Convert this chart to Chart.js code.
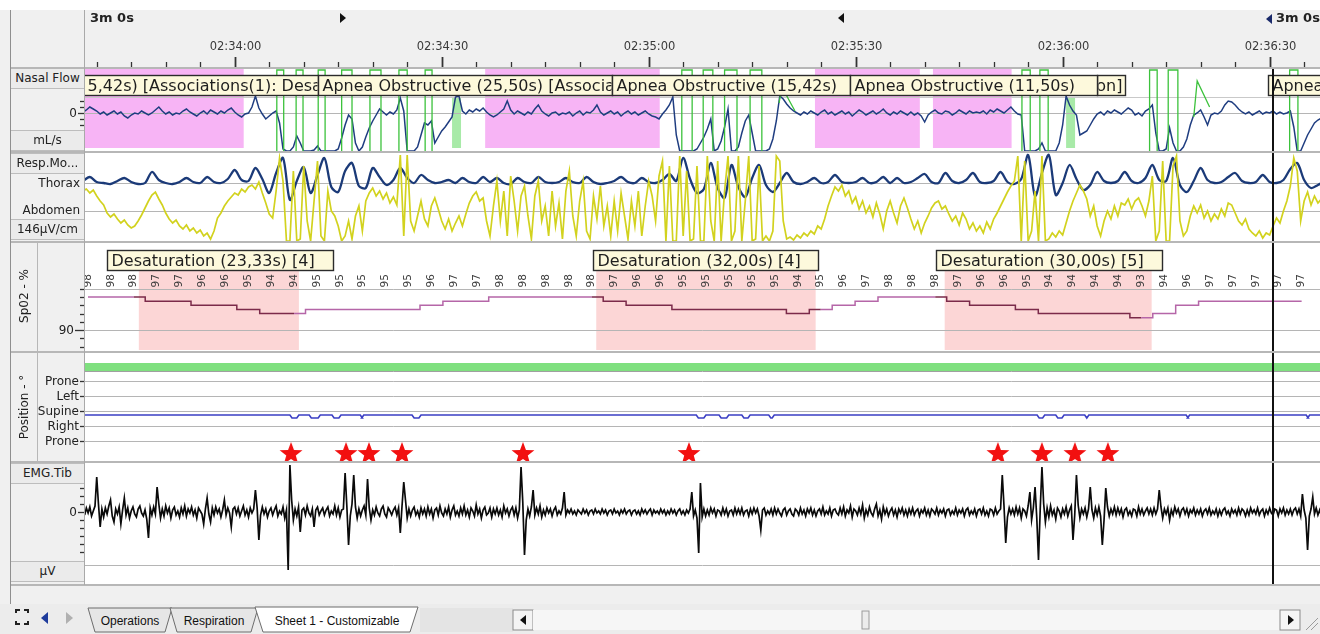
<!DOCTYPE html>
<html>
<head>
<meta charset="utf-8">
<title>Nasal Flow / Resp / SpO2 / Position / EMG.Tib</title>
<script src="https://cdn.jsdelivr.net/npm/chart.js@4.4.1/dist/chart.umd.min.js"></script>
<style>
html, body { margin: 0; padding: 0; overflow: hidden; background: #fff; }
#screen { position: relative; width: 1320px; height: 634px; background: #f0f0f0; overflow: hidden; font-family: "DejaVu Sans", sans-serif; color: #222; }
#screen canvas { position: absolute; }
.box { position: absolute; }
.cell { position: absolute; left: 10px; width: 73px; height: 19px; border: 1px solid #bdbdbd; background: #ebebeb; font-size: 12px; line-height: 19px; text-align: center; white-space: nowrap; overflow: visible; }
.lbl { position: absolute; left: 10px; width: 70px; font-size: 12px; text-align: right; white-space: nowrap; }
.sep { position: absolute; left: 10px; width: 1310px; height: 2px; background: #b7b7b7; z-index: 5; }
.rot { position: absolute; font-size: 12px; white-space: nowrap; transform: translate(-50%, -50%) rotate(-90deg); }
.tri-r { position: absolute; width: 0; height: 0; border-top: 5px solid transparent; border-bottom: 5px solid transparent; border-left: 6px solid #111; }
.tri-l { position: absolute; width: 0; height: 0; border-top: 5px solid transparent; border-bottom: 5px solid transparent; border-right: 6px solid #111; }
.hdr { position: absolute; top: 10px; font-size: 13px; font-weight: bold; color: #222; }
</style>
</head>
<body>
<div id="screen">
  <div class="box" style="left:0;top:0;width:1320px;height:10px;background:#fff"></div>
  <div class="box" style="left:85px;top:68px;width:1235px;height:517px;background:#fff"></div>
  <div class="box" style="left:10px;top:10px;width:1px;height:594px;background:#8f8f8f;z-index:6"></div>
  <div class="box" style="left:84px;top:10px;width:1px;height:575px;background:#a9a9a9;z-index:6"></div>
  <div class="box" style="left:37px;top:242px;width:1px;height:220px;background:#b7b7b7;z-index:6"></div>

  <canvas id="flowChart" width="1283" height="152" style="left:37px;top:0"></canvas>
  <canvas id="respChart" width="1283" height="90" style="left:37px;top:152px"></canvas>
  <canvas id="spo2Chart" width="1283" height="110" style="left:37px;top:242px"></canvas>
  <canvas id="posChart" width="1283" height="110" style="left:37px;top:352px"></canvas>
  <canvas id="emgChart" width="1283" height="123" style="left:37px;top:462px"></canvas>

  <div class="sep" style="top:67px"></div>
  <div class="sep" style="top:151px"></div>
  <div class="sep" style="top:241px"></div>
  <div class="sep" style="top:351px"></div>
  <div class="sep" style="top:461px"></div>
  <div class="sep" style="top:584px"></div>

  <div class="hdr" style="left:90px">3m 0s</div>
  <div class="tri-r" style="left:340px;top:13px"></div>
  <div class="tri-l" style="left:838px;top:13px"></div>
  <div class="tri-l" style="left:1266px;top:14px;border-right-color:#1a2a6a"></div>
  <div class="hdr" style="left:1276px">3m 0s</div>

  <div class="cell" style="top:68px">Nasal Flow</div>
  <div class="cell" style="top:130px">mL/s</div>
  <div class="cell" style="top:153px">Resp.Mo...</div>
  <div class="lbl" style="top:176px">Thorax</div>
  <div class="lbl" style="top:203px">Abdomen</div>
  <div class="cell" style="top:219px">146µV/cm</div>
  <div class="rot" style="left:24px;top:296px">Sp02 - %</div>
  <div class="rot" style="left:24px;top:407px">Position - °</div>
  <div class="cell" style="top:463px">EMG.Tib</div>
  <div class="cell" style="top:561px">µV</div>

  <svg class="box" style="left:0;top:604px" width="1320" height="30" font-family="Liberation Sans, Arial, sans-serif" font-size="12">
    <rect x="0" y="0" width="1320" height="30" fill="#ececec"/>
    <path d="M16 9 v-3 h4 M24 6 h4 v3 M28 17 v3 h-4 M20 20 h-4 v-3" stroke="#222" stroke-width="2" fill="none"/>
    <polygon points="48,8 48,20 41,14" fill="#1f3c9c"/>
    <polygon points="66,8 66,20 73,14" fill="#b0b0b0"/>
    <polygon points="88,4 172,4 165,28 95,28" fill="#e6e6e6" stroke="#6d6d6d"/>
    <text x="130" y="21" text-anchor="middle" fill="#111">Operations</text>
    <polygon points="170,4 258,4 251,28 177,28" fill="#e6e6e6" stroke="#6d6d6d"/>
    <text x="214" y="21" text-anchor="middle" fill="#111">Respiration</text>
    <polygon points="255,3 418,3 410,28 263,28" fill="#ffffff" stroke="#6d6d6d"/>
    <text x="337" y="21" text-anchor="middle" fill="#111">Sheet 1 - Customizable</text>
    <rect x="420" y="4" width="93" height="24" fill="#e4e4e4"/>
    <rect x="513" y="6" width="20" height="20" fill="#f4f4f4" stroke="#8a8a8a"/>
    <polygon points="526,11 526,21 520,16" fill="#111"/>
    <rect x="533" y="6" width="747" height="20" fill="#f6f6f6"/>
    <rect x="862" y="7" width="7" height="18" fill="#ececec" stroke="#9a9a9a"/>
    <rect x="1280" y="6" width="20" height="20" fill="#f4f4f4" stroke="#8a8a8a"/>
    <polygon points="1288,11 1288,21 1294,16" fill="#111"/>
    <path d="M1306 26 L1318 14 M1311 26 L1318 19" stroke="#9a9a9a"/>
  </svg>
</div>

<script>
"use strict";

// x axis: seconds after 02:33:00
const tMin = 38.3;
const tMax = 217.3;
const cursorTime = 210.5;

// ---- Nasal flow (0.5 s per sample, from 38 s) ----
const flowStart = 38;
const flowStep = 0.5;
const flowValues = [
    1, 3, 6, 4, 2, -1, 1, -2, 0, 2, -1, 1, -3, -5, -2, 0, -1, 2, 0, -2,
    0, 3, 6, 2, -1, 1, -2, 0, -1, 2, 4, 1, -1, -3, 0, 2, -1, 3, 1, -1,
    2, 0, 3, 5, 1, -2, -4, -1, 0, 6, 17, 5, -1, -6, -3, 0, 2, -10, -36, -38,
    -38, -34, -23, -30, -38, -38, -38, -37, -33, -38, -38, -38, -38, -38, -36, -25, -12, -2, -6, -30,
    -38, -34, -24, -15, -8, -2, 4, 1, -2, 1, -1, 3, 15, 2, -38, -38, -38, -34, -22, -10,
    -12, -8, -30, -24, -18, -14, -9, -4, 16, 17, 2, -1, 3, 1, 4, 2, 5, 1, -2, -4,
    -2, 1, 4, 12, 3, -1, 2, 0, -2, 1, -1, 4, 8, 2, -1, -3, 0, 1, -2, 0,
    -1, 1, -3, 0, 2, -2, 1, 0, 3, 8, 1, -2, 0, 2, -1, 1, -3, 0, 2, -1,
    1, -2, 0, 2, -1, -3, -4, -6, -1, 3, 8, 16, -22, -38, -38, -38, -38, -38, -36, -30,
    -24, -16, -6, -38, -36, -28, -14, 4, -38, -38, -34, -20, -8, -2, -20, -38, -38, -38, -38, -36,
    -26, -8, 17, 14, 9, 5, 2, 0, -2, 1, -1, 2, 0, -2, 1, 3, -1, 1, -2, 0,
    2, -1, 1, -3, 0, 3, 1, -2, 0, 2, -1, 1, 4, 0, -2, 1, -1, 2, 0, -2,
    1, -2, 0, -3, -9, -2, 1, 3, 0, -1, 2, 1, -2, 0, 3, 1, -1, 2, 0, 1,
    0, 2, -1, 3, 1, 4, 2, 0, 3, 6, 2, -1, -2, -38, -38, -38, -38, -36, -30, -38,
    -38, -38, -38, -30, -12, 17, 8, 2, -2, -22, -20, -18, -12, -6, -1, 1, -2, 2, 0, 3,
    1, -1, 2, 5, 3, -2, 0, -3, 2, 4, 8, -20, -38, -38, -36, -15, -30, -38, -38, -34,
    -26, -12, -2, 0, 3, -4, -12, -2, 0, -1, 2, 8, 12, 11, 8, 4, 1, -1, 1, -2,
    0, 2, -1, 1, 0, 2, -1, 1, -1, 0, 2, -14, -38, -38, -30, -22, -16, -10, -7, -5,
];

// green effort trace: square pulses
const greenOn = [66.1, 68.9, 72.1, 75.5, 79.6, 83.8, 87.6, 124.8, 127.9, 131.0, 134.7, 174.1, 176.7, 192.6, 195.3, 212.9];
const greenOff = [67.1, 69.9, 73.1, 77.0, 81.2, 85.0, 88.6, 126.3, 129.3, 132.8, 136.4, 175.3, 177.9, 193.7, 196.7, 214.1];
const greenLow = -39;
const greenHigh = 43;
const greenRiseTime = [138.9, 199.0];
const greenRiseValue = [10, -4];
const greenPeakTime = [139.3, 199.5];
const greenPeakValue = [26, 32];
const greenSettleTime = [141.2, 201.3];
const greenSettleValue = [2, 6];

const flowPinkFrom = [30, 96.3, 144.1, 161.2];
const flowPinkTo = [61.3, 121.6, 159.3, 172.6];
const flowGreenFrom = [91.5, 180.5];
const flowGreenTo = [92.8, 181.8];

const apneaFrom = [38.0, 72.07, 114.68, 184.97, 149.17, 209.75];
const apneaTo = [72.07, 114.68, 149.17, 189.0, 184.97, 240];
const apneaText = [
    "5,42s) [Associations(1): Desaturation]",
    "Apnea Obstructive (25,50s) [Associations(1): Desaturation]",
    "Apnea Obstructive (15,42s)",
    "[Associations(1): Desaturation]",
    "Apnea Obstructive (11,50s)",
    "Apnea Obstructive",
];
const apneaAlign = ["left", "left", "left", "right", "left", "left"];

// ---- Resp. movements ----
const thoraxStart = 38;
const thoraxStep = 1;
const thoraxValues = [
    2, 6, 1, 0, -1, 2, 5, 1, -1, 0,
    11, 3, 0, -1, 1, 5, 1, 0, 6, 1,
    0, 4, 13, 3, 2, 15, 4, -10, 10, 25,
    -17, 2, 16, -10, 8, 25, -4, -9, 12, 20,
    -3, -5, 15, 6, -2, 3, 15, 5, 0, 8,
    3, 0, 1, 3, 0, 5, 1, 0, 6, 1,
    5, 0, -1, 5, 1, 0, 6, 1, 0, 1,
    5, 1, 0, 6, 1, -1, 0, 2, 6, 1,
    0, 5, 1, 0, 3, 9, 2, 25, 4, -10,
    -6, 20, -5, -15, 18, -4, -14, 5, 18, -2,
    -9, 0, 10, 1, -1, 1, 5, 0, 1, 8,
    1, 0, 1, 5, 0, 1, 6, 0, 5, 0,
    1, 5, 9, 1, 0, 10, 2, 0, 3, 10,
    1, 0, 2, 11, 1, -1, 4, 28, -13, 10,
    28, -12, 0, 18, 4, -7, -2, 11, 2, 0,
    2, 11, 2, 0, 5, 18, 3, 2, 25, -2,
    -9, 2, 15, 3, 0, 1, 6, 10, 2, 0,
    1, 8, 1, 0, 3, 14, 20, 3, -5, -2, 2,
];

const abdomenStart = 38;
const abdomenStep = 0.5;
const abdomenValues = [
    20, 22, 18, 21, 15, 10, 6, -2, -6, -3, -8, -12, -9, -14, -17, -15, -10, -4, 3, 10,
    16, 19, 12, 6, -2, -8, -12, -9, -15, -18, -14, -20, -17, -22, -19, -25, -22, -28, -20, -7,
    -2, 5, 10, 14, 18, 16, 22, 19, 24, 26, 22, 29, 18, 8, -3, -7, 20, 53, 30, -30,
    -30, 40, -30, -28, 45, -10, -30, 10, 50, -25, -30, 20, 0, -5, -15, -30, -25, -10, -28, -5,
    5, -20, 10, 18, 23, 15, 20, 12, 18, 8, 14, 6, 56, -25, 56, -10, -20, -5, 10, -8,
    -15, 5, 13, 2, -10, -18, -8, -20, -12, -5, -15, -3, 8, 15, 19, 10, 13, -10, -25, 5,
    30, -10, 20, -25, 35, 10, -20, 15, 25, -5, -28, 15, 30, -10, 5, -25, 20, -15, 8, -28,
    20, 40, -5, -25, 10, 30, -20, -28, 15, -8, 25, -15, 5, -25, 10, -20, 18, -5, -28, 10,
    -15, 20, -25, 5, 30, 15, -10, 35, 50, -30, 45, -30, -30, 55, -25, 40, -30, -28, 45, -30,
    -30, 55, -10, -30, 50, -30, 20, 55, -30, -20, 55, -30, 10, 55, -30, -28, 45, -30, -25, -30,
    -20, 55, 50, -10, -28, -26, -29, -24, -27, -22, -25, -20, -23, -15, -18, -8, 5, 15, 24, 20,
    26, 15, 20, 8, 14, 2, 10, -2, 5, -6, 8, -3, -18, 0, 10, -2, -12, 5, 13, 3,
    -8, -18, -10, -22, -12, -5, 3, 8, 10, 2, 5, -3, -10, -5, -14, -2, -8, -18, -12, -20,
    -15, -22, -11, -18, -8, -2, 5, 12, 19, 25, 30, 55, -30, 50, -30, -20, 20, -30, 55, -30,
    -28, -22, -26, -20, -24, -12, 0, 10, 18, 26, 20, 12, -5, 5, -15, -25, -10, 0, -8, 5,
    -5, 8, 6, 12, 2, 10, 13, 5, -5, 10, 35, -30, -20, 50, -30, -30, 45, 55, -10, -25,
    -20, -5, 5, -2, 6, -7, 0, -10, -3, -8, 2, -5, 8, 6, -2, -10, -14, -8, -18, -22,
    -25, -20, -27, -22, -24, -15, -7, -12, 0, 10, 25, 53, 40, -10, 10, 19, 6, 15, 8, 12,
];

// ---- SpO2 ----
const spo2Start = 38.73;
const spo2Step = 3.319;
const spo2Values = [
    98, 98, 98, 97, 97, 96, 96, 95, 94, 94, 95, 95, 95, 95, 95, 96, 97, 97, 98, 98,
    98, 98, 98, 97, 96, 96, 95, 95, 95, 95, 95, 94, 95, 96, 97, 98, 98, 98, 97, 96,
    96, 95, 94, 94, 94, 94, 93, 94, 96, 97, 97, 97, 97, 97,
];
const desatFrom = [46.1, 112.4, 162.9];
const desatTo = [69.3, 144.2, 192.9];
const desatBoxFrom = [41.5, 111.9, 161.6];
const desatBoxTo = [74.2, 144.5, 194.4];
const desatText = ["Desaturation (23,33s) [4]", "Desaturation (32,00s) [4]", "Desaturation (30,00s) [5]"];

// ---- Position ----
const positionNames = ["Prone", "Right", "Supine", "Left", "Prone"];
const posLevel = 1.73;
const posDipLevel = 1.53;
const posDipFrom = [68.0, 70.8, 74.1, 78.2, 85.7, 126.9, 130.2, 133.5, 137.4, 176.3, 179.0, 183.2, 197.9, 215.3];
const posDipTo = [69.3, 72.4, 75.4, 78.7, 87.0, 128.3, 131.6, 134.7, 138.2, 177.4, 180.2, 183.8, 198.4, 215.8];
const lightLevel = 4.93;
const starTimes = [68.16, 76.13, 79.46, 84.24, 101.78, 125.84, 170.62, 176.99, 181.78, 186.56];
const starLevel = -0.8;

// ---- EMG tibialis (0.25 s per sample, from 38 s) ----
const emgStart = 38;
const emgStep = 0.25;
const emgValues = [
    2, -3, 4, -1, 5, -4, 1, 6, 35, 8, -15, 3, -5, 4, -2, 6, 12, -4, -10, 3,
    -2, 5, -12, 2, 14, -3, 4, -6, 1, 5, -2, -5, 3, 6, -1, -4, 2, -7, -26, 4,
    -3, 5, -2, 25, 8, -6, 3, -4, 6, -1, 4, -6, 2, 5, -3, 1, -5, 4, -2, 6,
    -4, 3, -1, 5, -3, 2, -6, 4, 1, -2, -12, 3, 14, -2, -10, 4, -3, 5, -1, 3,
    -5, 2, 12, -3, 4, -1, -15, 3, 5, -2, 4, -4, 1, 6, -3, 2, -5, 4, -1, 3,
    22, 4, -28, -3, 5, -2, 3, -5, 1, 4, -3, 2, 6, -4, 1, -2, 5, -6, 2, -58,
    47, 12, -8, 3, -4, 5, -20, 2, 4, -3, 6, -1, -4, 3, -15, 2, 5, -3, 1, 4,
    -3, 2, 5, -4, 1, -2, 6, -3, 4, -5, 2, 3, 39, 6, -33, -4, 8, 37, 5, -6,
    3, -4, 2, 6, -3, 33, 4, -8, 2, -3, 5, -1, -4, 3, 6, -2, -5, 4, 1, -3,
    2, 5, -3, 4, -21, 6, 30, 12, -6, 3, -4, 2, 5, -3, 1, -5, 4, -2, 3, -4,
    5, -2, 3, -6, 2, 4, -3, 6, -1, -4, 3, -2, 5, -5, 2, 6, -3, 1, -4, 4,
    -2, 6, -3, 2, -5, 4, 1, -4, 7, -2, 3, -6, 2, 5, -3, -1, 4, -5, 3, -2,
    4, -3, 2, -5, 6, -1, 3, -4, 2, 5, -3, 4, -6, 2, 45, 10, -43, -8, 3, -4,
    5, 22, -3, 4, -2, 6, -5, 2, -3, 4, -1, 3, -4, 2, 5, -3, 1, -2, 4, 20,
    -3, 2, -1, 3, -2, 1, -3, 2, 0, -2, 3, -1, 2, -3, 1, 2, -2, 3, -1, 1,
    -2, 3, -1, 2, -3, 1, 2, -2, 3, -1, 1, -3, 2, -1, 3, -2, 1, 2, -3, 1,
    2, -2, 1, -3, 3, -1, 2, -2, 1, 3, -3, 2, -1, 1, -2, 3, -1, 2, -3, 1,
    -2, 3, -1, 2, -3, 1, 3, -2, 1, -3, 2, -1, 3, 20, -4, 2, -6, -41, 29, -5,
    3, -4, 2, -3, 4, -1, 3, -4, 2, 1, -3, 4, -2, 3, -4, 1, 2, -3, 4, -2,
    3, -2, 4, -3, 1, 2, -4, 3, -2, 4, -1, 3, -4, -18, 2, 4, -3, 1, -2, 3,
    -3, 4, -2, 3, -1, -4, 2, 4, -3, 1, 3, -2, -4, 3, 1, -3, 4, -2, 2, -4,
    3, -1, 4, -3, 2, -4, 1, 3, -2, 5, -3, 1, -2, 4, -4, 2, 3, -1, -3, 4,
    -2, 5, -4, 2, -1, 6, -5, 3, 1, -3, 4, -2, 7, -6, 2, -3, 5, -1, -4, 3,
    8, -4, 2, -7, 5, -2, 3, -4, 1, 4, -3, 2, -5, 3, -1, 4, -3, 2, -4, 3,
    -2, 4, -3, 1, 3, -4, 2, -1, 4, -3, 2, -4, 3, 1, -2, 4, -3, 2, -1, 3,
    -4, 2, 3, -3, 1, -2, 4, -3, 2, -1, 3, -4, 2, 4, -3, 1, -2, 3, -4, 2,
    3, -2, 4, -3, 1, -4, 3, 2, -3, 4, -2, 1, 3, 37, 6, -31, -5, 4, -2, 3,
    -3, 5, -2, 4, -6, 3, 1, -4, 6, 20, -8, 4, 25, -6, -48, 3, 45, 8, -10, 4,
    -5, 6, -3, 2, -7, 4, 1, -5, 3, -2, 5, -4, 2, 6, -28, -3, 37, 7, -6, 3,
    -2, 4, -5, 3, 25, 2, -6, 4, -3, 5, -4, -33, -8, 24, 5, -4, 3, -2, 5, -3,
    4, -2, 3, -5, 2, 4, -3, 1, -4, 3, 2, -4, 5, -2, 3, -3, 1, 4, -2, 3,
    -3, 4, -2, 3, 22, 5, -6, 3, -2, 4, -8, 2, -3, 5, -1, 3, -4, 2, 4, -2,
    3, -4, 2, -1, 4, -3, 2, -2, 3, -4, 1, 3, -2, 4, -3, 1, -2, 3, -4, 2,
    -3, 2, 4, -2, 1, -4, 3, -1, 2, -3, 4, -2, 3, 1, -4, 2, -3, 4, -1, 2,
    -2, 4, -3, 1, 3, -4, 2, -2, 4, -1, -3, 3, 2, -4, 3, -1, 4, -3, 2, -2,
    3, -3, 2, 4, -2, 3, -4, 18, 2, -6, -38, -4, 3, 15, -2, 4, -3, 2, -4, 3,
];

// ---------------------------------------------------------------

const series = (values, start, step) => values.map((v, i) => ({ x: start + i * step, y: v }));

function clockLabel(v) {
    const m = 33 + Math.floor(v / 60);
    const s = v % 60;
    return "02:" + String(m).padStart(2, "0") + ":" + String(s).padStart(2, "0");
}

function makeStar(size, color) {
    const c = document.createElement("canvas");
    c.width = size;
    c.height = size;
    const g = c.getContext("2d");
    const r = size / 2;
    g.beginPath();
    for (let i = 0; i < 10; i++) {
        const rad = i % 2 === 0 ? r : r * 0.42;
        const ang = -Math.PI / 2 + (i * Math.PI) / 5;
        const px = r + rad * Math.cos(ang);
        const py = r + rad * Math.sin(ang) + 1;
        if (i === 0) g.moveTo(px, py);
        else g.lineTo(px, py);
    }
    g.closePath();
    g.fillStyle = color;
    g.fill();
    return c;
}

const psgPlugin = {
    id: "psg",
    beforeDatasetsDraw(chart, args, opts) {
        const { ctx, chartArea: a, scales } = chart;
        ctx.save();
        ctx.beginPath();
        ctx.rect(a.left, a.top, a.width, a.height);
        ctx.clip();
        for (const b of opts.bands || []) {
            const ys = scales[b.axis || "y"];
            const x1 = scales.x.getPixelForValue(b.from);
            const x2 = scales.x.getPixelForValue(b.to);
            const y1 = ys.getPixelForValue(b.top);
            const y2 = ys.getPixelForValue(b.bottom);
            ctx.fillStyle = b.color;
            ctx.fillRect(x1, y1, x2 - x1, y2 - y1);
        }
        for (const h of opts.lines || []) {
            const y = Math.round(scales[h.axis || "y"].getPixelForValue(h.value)) + 0.5;
            ctx.strokeStyle = h.color || "#b5b5b5";
            ctx.lineWidth = 1;
            ctx.beginPath();
            ctx.moveTo(a.left, y);
            ctx.lineTo(a.right, y);
            ctx.stroke();
        }
        ctx.restore();
    },
    afterDatasetsDraw(chart, args, opts) {
        const { ctx, chartArea: a, scales } = chart;
        ctx.save();
        ctx.beginPath();
        ctx.rect(a.left, a.top, a.width, a.height);
        ctx.clip();

        for (const b of opts.boxes || []) {
            const x1 = Math.round(scales.x.getPixelForValue(b.from)) + 0.5;
            const x2 = Math.round(scales.x.getPixelForValue(b.to)) + 0.5;
            const y1 = Math.round(scales.y.getPixelForValue(b.top)) + 0.5;
            const y2 = Math.round(scales.y.getPixelForValue(b.bottom)) + 0.5;
            ctx.save();
            ctx.fillStyle = "#fdf9dc";
            ctx.fillRect(x1, y1, x2 - x1, y2 - y1);
            ctx.strokeStyle = "#2b2b2b";
            ctx.lineWidth = 1.4;
            ctx.strokeRect(x1, y1, x2 - x1, y2 - y1);
            ctx.beginPath();
            ctx.rect(x1 + 1, y1, x2 - x1 - 2, y2 - y1);
            ctx.clip();
            ctx.fillStyle = "#1e1e1e";
            ctx.font = "16px 'DejaVu Sans'";
            ctx.textBaseline = "middle";
            ctx.textAlign = b.align || "left";
            ctx.fillText(b.text, b.align === "right" ? x2 - 3 : x1 + 4, (y1 + y2) / 2 + 1);
            ctx.restore();
        }

        if (opts.marks) {
            const m = opts.marks;
            ctx.fillStyle = "#3a3a3a";
            ctx.font = "10.5px 'DejaVu Sans'";
            ctx.textAlign = "left";
            ctx.textBaseline = "middle";
            m.values.forEach((v, i) => {
                const x = scales.x.getPixelForValue(m.start + i * m.step);
                const y = scales.y.getPixelForValue(m.at);
                ctx.save();
                ctx.translate(x, y);
                ctx.rotate(-Math.PI / 2);
                ctx.fillText(String(v), 0, 0);
                ctx.restore();
            });
        }

        if (opts.cursor != null) {
            const x = Math.round(scales.x.getPixelForValue(opts.cursor));
            ctx.strokeStyle = "#111";
            ctx.lineWidth = 2;
            ctx.beginPath();
            ctx.moveTo(x, a.top);
            ctx.lineTo(x, a.bottom);
            ctx.stroke();
        }
        ctx.restore();
    },
    afterDraw(chart, args, opts) {
        const { ctx, chartArea: a, scales } = chart;
        ctx.save();
        for (const t of opts.ticks || []) {
            const y = Math.round(scales.y.getPixelForValue(t.value)) + 0.5;
            const len = t.len || 4;
            ctx.strokeStyle = "#333";
            ctx.lineWidth = 1.3;
            ctx.beginPath();
            ctx.moveTo(a.left - len - 1, y);
            ctx.lineTo(a.left - 1, y);
            ctx.stroke();
            if (t.label) {
                ctx.fillStyle = "#222";
                ctx.font = "12px 'DejaVu Sans'";
                ctx.textAlign = "right";
                ctx.textBaseline = "middle";
                ctx.fillText(t.label, a.left - len - 2, y);
            }
        }
        if (opts.header) {
            const h = opts.header;
            for (let v = h.from; v <= h.to; v += h.step) {
                const x = Math.round(scales.x.getPixelForValue(v)) + 0.5;
                const major = v % h.major === 0;
                ctx.strokeStyle = "#333";
                ctx.lineWidth = major ? 1.8 : 1.3;
                ctx.beginPath();
                ctx.moveTo(x, a.top - (major ? 11 : 6));
                ctx.lineTo(x, a.top);
                ctx.stroke();
                if (major) {
                    ctx.fillStyle = "#3a3a3a";
                    ctx.font = "11.5px 'DejaVu Sans'";
                    ctx.textAlign = "center";
                    ctx.textBaseline = "middle";
                    ctx.fillText(clockLabel(v), x, 47);
                }
            }
        }
        ctx.restore();
    },
};

function makeChart(id, datasets, yScales, psg, padding) {
    return new Chart(document.getElementById(id), {
        type: "line",
        data: { datasets: datasets },
        options: {
            responsive: false,
            animation: false,
            devicePixelRatio: 1,
            events: [],
            layout: { padding: padding, autoPadding: false },
            elements: { point: { radius: 0 }, line: { tension: 0 } },
            plugins: {
                legend: { display: false },
                tooltip: { enabled: false },
                psg: psg,
            },
            scales: Object.assign(
                { x: { type: "linear", min: tMin, max: tMax, display: false } },
                yScales
            ),
        },
        plugins: [psgPlugin],
    });
}

// ---- nasal flow panel ----
const greenPoints = [];
greenOn.forEach((t, i) => {
    greenPoints.push({ x: t, y: greenLow }, { x: t, y: greenHigh }, { x: greenOff[i], y: greenHigh }, { x: greenOff[i], y: greenLow }, { x: greenOff[i], y: null });
});
greenPeakTime.forEach((t, i) => {
    greenPoints.push(
        { x: greenRiseTime[i], y: greenRiseValue[i] },
        { x: t, y: greenPeakValue[i] },
        { x: greenSettleTime[i], y: greenSettleValue[i] },
        { x: greenSettleTime[i], y: null }
    );
});

const flowBands = flowPinkFrom.map((f, i) => ({ from: f, to: flowPinkTo[i], top: 45, bottom: -35, color: "#f7b4f5" }))
    .concat(flowGreenFrom.map((f, i) => ({ from: f, to: flowGreenTo[i], top: 16, bottom: -35, color: "#a8eaa8" })));

const apneaBoxes = apneaFrom.map((f, i) => ({ from: f, to: apneaTo[i], top: 38, bottom: 18, text: apneaText[i], align: apneaAlign[i] }));

makeChart(
    "flowChart",
    [
        { data: greenPoints, borderColor: "#3cc23c", borderWidth: 1.3, spanGaps: false },
        { data: series(flowValues, flowStart, flowStep), borderColor: "#1f3d80", borderWidth: 1.5 },
    ],
    { y: { type: "linear", min: -39, max: 45, display: false } },
    {
        bands: flowBands,
        lines: [{ value: 0 }, { value: 16, color: "#c9c9c9" }],
        boxes: apneaBoxes,
        cursor: cursorTime,
        ticks: [{ value: 12 }, { value: 6 }, { value: 0, label: "0", len: 6 }, { value: -6 }, { value: -12 }],
        header: { from: 40, to: 215, step: 5, major: 30 },
    },
    { left: 48, top: 68, right: 0, bottom: 0 }
);

// ---- resp panel ----
makeChart(
    "respChart",
    [
        { data: series(abdomenValues, abdomenStart, abdomenStep), yAxisID: "y2", borderColor: "#d2d21e", borderWidth: 1.7 },
        { data: series(thoraxValues, thoraxStart, thoraxStep), yAxisID: "y", borderColor: "#1b3a78", borderWidth: 2.3, tension: 0.3 },
    ],
    {
        y: { type: "linear", min: -59, max: 31, display: false },
        y2: { type: "linear", min: -31, max: 59, display: false },
    },
    {
        lines: [{ value: 0, axis: "y" }, { value: 0, axis: "y2" }],
        cursor: cursorTime,
    },
    { left: 48, top: 0, right: 0, bottom: 0 }
);

// ---- SpO2 panel ----
const inDesat = (x) => desatFrom.some((f, i) => x >= f && x <= desatTo[i]);
makeChart(
    "spo2Chart",
    [
        {
            data: series(spo2Values, spo2Start, spo2Step),
            stepped: "middle",
            borderColor: "#b566a8",
            borderWidth: 1.5,
            segment: { borderColor: (c) => (inDesat((c.p0.parsed.x + c.p1.parsed.x) / 2) ? "#7b2a4a" : "#b566a8") },
        },
    ],
    { y: { type: "linear", min: 84.667, max: 111.333, display: false } },
    {
        bands: desatFrom.map((f, i) => ({ from: f, to: desatTo[i], top: 104.55, bottom: 85.15, color: "#fcd6d6" })),
        lines: [{ value: 100 }, { value: 90 }],
        boxes: desatBoxFrom.map((f, i) => ({ from: f, to: desatBoxTo[i], top: 109.4, bottom: 104.55, text: desatText[i] })),
        marks: { values: spo2Values, start: spo2Start, step: spo2Step, at: 100.3 },
        cursor: cursorTime,
        ticks: [100, 98, 96, 94, 92, 90, 88, 86].map((v) => (v === 90 ? { value: v, label: "90", len: 9 } : { value: v, len: 4 })),
    },
    { left: 48, top: 0, right: 0, bottom: 0 }
);

// ---- position panel ----
const posPoints = [{ x: tMin - 1, y: posLevel }];
posDipFrom.forEach((f, i) => {
    posPoints.push({ x: f, y: posLevel }, { x: f + 0.3, y: posDipLevel }, { x: posDipTo[i] - 0.3, y: posDipLevel }, { x: posDipTo[i], y: posLevel });
});
posPoints.push({ x: tMax + 1, y: posLevel });

makeChart(
    "posChart",
    [
        { data: [{ x: tMin - 1, y: lightLevel }, { x: tMax + 1, y: lightLevel }], borderColor: "#7fe07f", borderWidth: 8 },
        { data: posPoints, borderColor: "#3b3fc4", borderWidth: 1.6 },
        {
            data: starTimes.map((t) => ({ x: t, y: starLevel })),
            showLine: false,
            pointStyle: makeStar(24, "#f21010"),
            pointRadius: 12,
        },
    ],
    { y: { type: "linear", min: -1.4, max: 5.933, display: false } },
    {
        lines: [{ value: 4 }, { value: 3 }, { value: 2 }, { value: 1 }, { value: 0 }, { value: 5.22, color: "#a0a0a0" }, { value: 4.66, color: "#a0a0a0" }],
        cursor: cursorTime,
        ticks: positionNames.map((n, i) => ({ value: i, label: n, len: 4 })),
    },
    { left: 48, top: 0, right: 0, bottom: 0 }
);

// ---- EMG panel ----
makeChart(
    "emgChart",
    [{ data: series(emgValues, emgStart, emgStep), borderColor: "#0a0a0a", borderWidth: 1.7 }],
    { y: { type: "linear", min: -73, max: 50, display: false } },
    {
        lines: [{ value: -53 }],
        cursor: cursorTime,
        ticks: [24, 16, 8, 0, -8, -16, -24, -32, -40].map((v) => (v === 0 ? { value: v, label: "0", len: 6 } : { value: v, len: 4 })),
    },
    { left: 48, top: 0, right: 0, bottom: 0 }
);
</script>
</body>
</html>
